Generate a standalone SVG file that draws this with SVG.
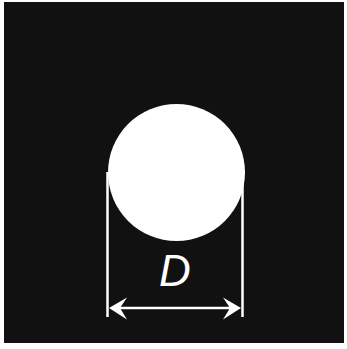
<svg xmlns="http://www.w3.org/2000/svg" width="347" height="349" viewBox="0 0 347 349">
  <style>
    .dim { stroke: #ffffff; stroke-width: 2.5; fill: none; }
    .head { fill: #ffffff; }
    .lbl { font-family: "Liberation Sans", Arial, sans-serif; font-style: italic; font-size: 44px; fill: #ffffff; }
  </style>
  <rect x="0" y="0" width="347" height="349" fill="#ffffff"/>
  <rect x="4" y="2" width="340" height="341" fill="#111111"/>
  <g id="circle">
    <circle cx="176.5" cy="172.5" r="68.5" fill="#ffffff"/>
  </g>
  <g id="connectors">
    <line class="dim" x1="107.5" y1="172" x2="107.5" y2="317"/>
    <line class="dim" x1="242.5" y1="172" x2="242.5" y2="317"/>
    <line class="dim" x1="115" y1="308" x2="235" y2="308"/>
    <path class="head" d="M109,308 L127,297.5 L120,308 L127,319.5 Z"/>
    <path class="head" d="M241,308 L223,297.5 L230,308 L223,319.5 Z"/>
  </g>
  <g id="label">
    <text class="lbl" x="175" y="286" text-anchor="middle">D</text>
  </g>
</svg>
